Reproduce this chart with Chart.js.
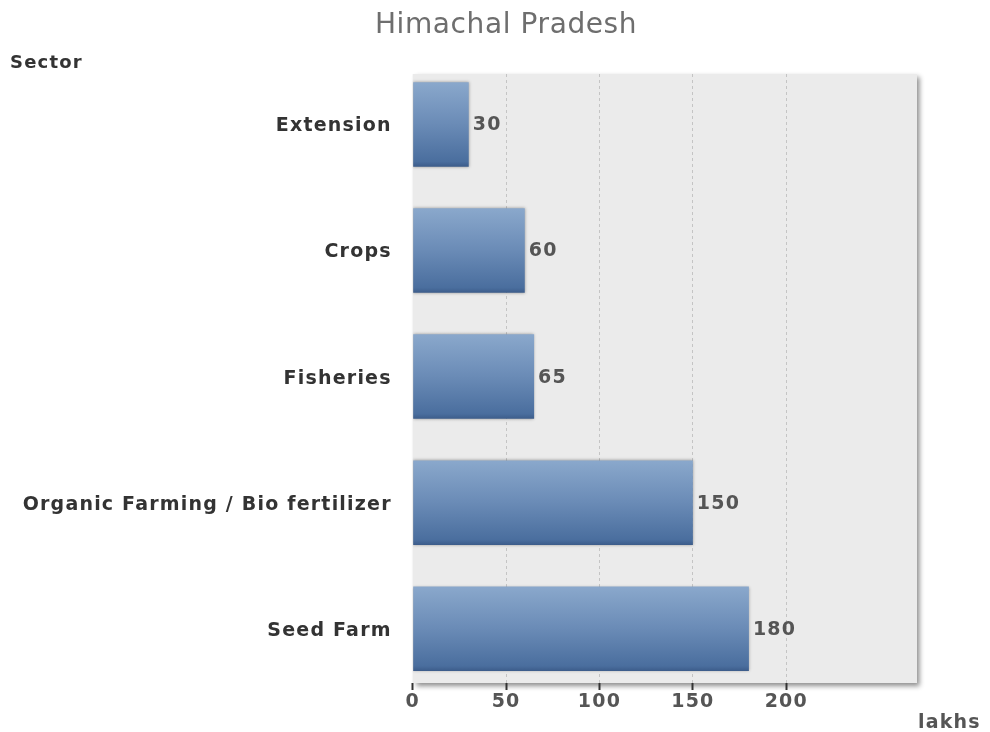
<!DOCTYPE html>
<html>
<head>
    <script src="https://cdn.jsdelivr.net/npm/chart.js"></script>
    <style>
        body { margin: 0; background: #fff; }
    </style>
</head>
<body>
    <canvas id="sectorChart" width="990" height="732"></canvas>

    <script>
        // values
        const sectors = ['Extension', 'Crops', 'Fisheries', 'Organic Farming / Bio fertilizer', 'Seed Farm'];
        const lakhs = [30, 60, 65, 150, 180];
        const xTicks = [0, 50, 100, 150, 200];
        const xMax = 270;

        const titleText = 'Himachal Pradesh';
        const yTitle = 'Sector';
        const xTitle = 'lakhs';

        const barPct = 0.67;
        const labelFont = '"DejaVu Sans", Verdana, sans-serif';

        // vertical gradient for each bar
        function barGradient(c) {
            const ys = c.chart.scales.y;
            if (!ys || ys.top === undefined) return '#6688b3';
            const mid = ys.getPixelForValue(c.dataIndex);
            const half = Math.abs(ys.getPixelForValue(1) - ys.getPixelForValue(0)) * barPct / 2;
            const g = c.chart.ctx.createLinearGradient(0, mid - half, 0, mid + half);
            g.addColorStop(0, '#8aa8cc');
            g.addColorStop(0.5, '#6a8bb6');
            g.addColorStop(0.94, '#4a6e9e');
            g.addColorStop(1, '#3c5c8a');
            return g;
        }

        const decor = {
            id: 'decor',
            beforeDraw(chart) {
                const { ctx, chartArea: a } = chart;
                ctx.letterSpacing = '1.2px';
                ctx.save();
                ctx.shadowColor = 'rgba(0,0,0,0.45)';
                ctx.shadowBlur = 5;
                ctx.shadowOffsetX = 3;
                ctx.shadowOffsetY = 3;
                ctx.fillStyle = '#ebebeb';
                ctx.fillRect(a.left, a.top, a.right - a.left, a.bottom - a.top);
                ctx.restore();
            },
            beforeDatasetsDraw(chart) {
                const ctx = chart.ctx;
                ctx.save();
                ctx.shadowColor = 'rgba(0,0,0,0.35)';
                ctx.shadowBlur = 3;
            },
            afterDatasetsDraw(chart) {
                const ctx = chart.ctx;
                ctx.restore();
                const meta = chart.getDatasetMeta(0);
                ctx.save();
                ctx.font = 'bold 19px ' + labelFont;
                ctx.fillStyle = '#555';
                ctx.textAlign = 'left';
                ctx.textBaseline = 'middle';
                meta.data.forEach((bar, i) => {
                    ctx.fillText(String(lakhs[i]), bar.x + 4, bar.y + 1);
                });
                ctx.restore();
            },
            afterDraw(chart) {
                const ctx = chart.ctx;
                ctx.save();
                ctx.textBaseline = 'middle';
                ctx.letterSpacing = '0.6px';
                ctx.font = '28px ' + labelFont;
                ctx.fillStyle = '#6e6e6e';
                ctx.textAlign = 'center';
                ctx.fillText(titleText, 506, 26);
                ctx.letterSpacing = '1.2px';
                ctx.font = 'bold 18px ' + labelFont;
                ctx.fillStyle = '#333';
                ctx.textAlign = 'left';
                ctx.fillText(yTitle, 10, 63);
                ctx.fillStyle = '#555';
                ctx.font = 'bold 19px ' + labelFont;
                ctx.fillText(xTitle, 918, 723);
                ctx.restore();
            }
        };

        new Chart(document.getElementById('sectorChart'), {
            type: 'bar',
            data: {
                datasets: [{
                    label: xTitle,
                    data: lakhs.map((v, i) => ({ x: v, y: i })),
                    backgroundColor: barGradient,
                    borderWidth: 0,
                    barPercentage: barPct,
                    categoryPercentage: 1
                }]
            },
            options: {
                indexAxis: 'y',
                responsive: false,
                animation: false,
                layout: {
                    padding: { left: 0, right: 73, top: 74, bottom: 0 }
                },
                scales: {
                    x: {
                        type: 'linear',
                        min: 0,
                        max: xMax,
                        afterFit: s => { s.height = 49; },
                        afterBuildTicks: s => { s.ticks = xTicks.map(v => ({ value: v })); },
                        grid: {
                            color: c => (c.tick && c.tick.value === 0) ? 'rgba(0,0,0,0)' : '#c4c4c4',
                            tickColor: '#333',
                            tickLength: 7,
                            tickWidth: 2
                        },
                        border: { display: false, dash: [3, 3] },
                        ticks: {
                            padding: 1,
                            color: '#555',
                            font: { family: labelFont, size: 19, weight: 'bold' }
                        }
                    },
                    y: {
                        type: 'linear',
                        offset: false,
                        reverse: true,
                        min: -0.4,
                        max: 4.43,
                        afterFit: s => { s.width = 412.7; },
                        afterBuildTicks: s => { s.ticks = sectors.map((n, i) => ({ value: i })); },
                        grid: { display: false, drawTicks: false, offset: false },
                        border: { display: false },
                        ticks: {
                            padding: 21,
                            labelOffset: 2,
                            color: '#333',
                            callback: v => sectors[v],
                            font: { family: labelFont, size: 19, weight: 'bold' }
                        }
                    }
                },
                plugins: {
                    legend: { display: false },
                    tooltip: { enabled: false }
                }
            },
            plugins: [decor]
        });
    </script>
</body>
</html>
